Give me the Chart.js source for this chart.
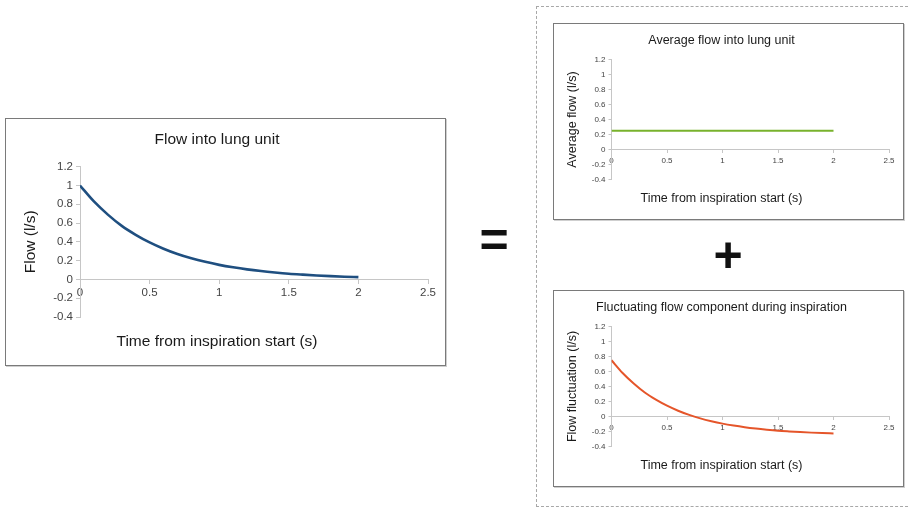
<!DOCTYPE html>
<html>
<head>
<meta charset="utf-8">
<script src="https://cdn.jsdelivr.net/npm/chart.js@4"></script>
<style>
  html, body { margin:0; padding:0; background:#fff; }
  body { width:910px; height:508px; position:relative; overflow:hidden; font-family:"Liberation Sans", Arial, sans-serif; }
  .panel { position:absolute; border:1px solid #7a7a7a; box-shadow:1px 1px 0 #cfcfcf; background:#fff; }
  .panel canvas { display:block; }
  #dash { position:absolute; left:536px; top:6px; width:380px; height:499px; border:1px dashed #a8a8a8; }
  .sym { position:absolute; font-weight:bold; font-size:50px; line-height:50px; width:60px; text-align:center; color:#111; font-family:"Liberation Sans", Arial, sans-serif; }
</style>
</head>
<body>
<div id="dash"></div>
<div class="panel" style="left:5px;top:118px;width:439px;height:246px;"><canvas id="c1"></canvas></div>
<div class="panel" style="left:553px;top:23px;width:349px;height:195px;"><canvas id="c2"></canvas></div>
<div class="panel" style="left:553px;top:290px;width:349px;height:195px;"><canvas id="c3"></canvas></div>
<div class="sym" style="left:464px;top:215px;">=</div>
<div class="sym" style="left:698px;top:230px;">+</div>
<script>
// ---- data ----
const timeS = [0, 0.1, 0.2, 0.3, 0.4, 0.5, 0.6, 0.7, 0.8, 0.9, 1.0, 1.1, 1.2, 1.3, 1.4, 1.5, 1.6, 1.7, 1.8, 1.9, 2.0];
const flowLs = [1.00, 0.83, 0.69, 0.57, 0.475, 0.394, 0.327, 0.271, 0.225, 0.187, 0.155, 0.129, 0.107, 0.089, 0.074, 0.061, 0.051, 0.042, 0.035, 0.029, 0.024];
const avgTime = [0, 2];
const avgFlowLs = [0.25, 0.25];
const fluctLs = [0.75, 0.58, 0.44, 0.32, 0.225, 0.144, 0.077, 0.021, -0.025, -0.063, -0.095, -0.121, -0.143, -0.161, -0.176, -0.189, -0.199, -0.208, -0.215, -0.221, -0.226];
const xTickLabels = ["0", "0.5", "1", "1.5", "2", "2.5"];
const yTickLabels = ["-0.4", "-0.2", "0", "0.2", "0.4", "0.6", "0.8", "1", "1.2"];
const xTicks = { min: 0, max: 2.5, step: 0.5 };
const yTicks = { min: -0.4, max: 1.2, step: 0.2 };
const titles = ["Flow into lung unit", "Average flow into lung unit", "Fluctuating flow component during inspiration"];
const yTitles = ["Flow (l/s)", "Average flow (l/s)", "Flow fluctuation (l/s)"];
const xTitle = "Time from inspiration start (s)";

const FONT = "'Liberation Sans', Arial, Helvetica, sans-serif";
const AXIS = '#c6c6c6';

function pts(xs, ys) { return xs.map((x, i) => ({ x: x, y: ys[i] })); }

function makeChart(id, data, color, width, L) {
  new Chart(document.getElementById(id), {
    type: 'line',
    data: { datasets: [{ data: data, borderColor: color, borderWidth: width, pointRadius: 0, fill: false, tension: 0.4, cubicInterpolationMode: 'monotone' }] },
    options: {
      responsive: true, maintainAspectRatio: false, animation: false,
      layout: { padding: { left: 0, right: L.right, top: 0, bottom: 0 } },
      plugins: {
        legend: { display: false }, tooltip: { enabled: false },
        title: { display: true, text: L.title, color: '#1a1a1a', font: { family: FONT, size: L.tSize, weight: 'normal', lineHeight: 1.2 }, padding: { top: L.tTop, bottom: L.tBot } },
        subtitle: { display: true, position: 'bottom', text: xTitle, color: '#1a1a1a', font: { family: FONT, size: L.tSize, weight: 'normal', lineHeight: 1.2 }, padding: { top: L.sTop, bottom: L.sBot } }
      },
      scales: {
        x: {
          type: 'linear', min: xTicks.min, max: xTicks.max, position: { y: 0 },
          ticks: { stepSize: xTicks.step, color: '#444', font: { family: FONT, size: L.kSize }, padding: L.kPad, maxRotation: 0, autoSkip: false,
                   callback: function (v, i) { return xTickLabels[i]; } },
          grid: { drawOnChartArea: false, drawTicks: true, tickLength: L.tl, color: AXIS },
          border: { color: AXIS, width: 1 }
        },
        y: {
          min: yTicks.min, max: yTicks.max,
          ticks: { stepSize: yTicks.step, color: '#444', font: { family: FONT, size: L.kSize }, padding: L.kPad,
                   callback: function (v, i) { return yTickLabels[i]; } },
          grid: { drawOnChartArea: false, drawTicks: true, tickLength: L.tl, color: AXIS },
          border: { color: AXIS, width: 1 },
          title: { display: true, text: L.yTitle, color: '#1a1a1a', font: { family: FONT, size: L.tSize, lineHeight: 1.2 }, padding: { top: L.yPad, bottom: 0 } },
          afterFit: function (s) { s.width = L.yW; }
        }
      }
    }
  });
}

makeChart('c1', pts(timeS, flowLs), '#1f4f80', 2.6, {
  title: titles[0], yTitle: yTitles[0], tSize: 15.5, tTop: 11.7, tBot: 17.4, sTop: 15.4, sBot: 14,
  kSize: 11.5, kPad: 3, tl: 4, yPad: 15.7, yW: 74, right: 17
});
makeChart('c2', pts(avgTime, avgFlowLs), '#78b22c', 2, {
  title: titles[1], yTitle: yTitles[1], tSize: 12.5, tTop: 9.5, tBot: 11, sTop: 12, sBot: 12.5,
  kSize: 8, kPad: 3, tl: 3, yPad: 11.5, yW: 57.5, right: 14
});
makeChart('c3', pts(timeS, fluctLs), '#e5552a', 2, {
  title: titles[2], yTitle: yTitles[2], tSize: 12.5, tTop: 9.5, tBot: 11, sTop: 12, sBot: 12.5,
  kSize: 8, kPad: 3, tl: 3, yPad: 11.5, yW: 57.5, right: 14
});
</script>
</body>
</html>
